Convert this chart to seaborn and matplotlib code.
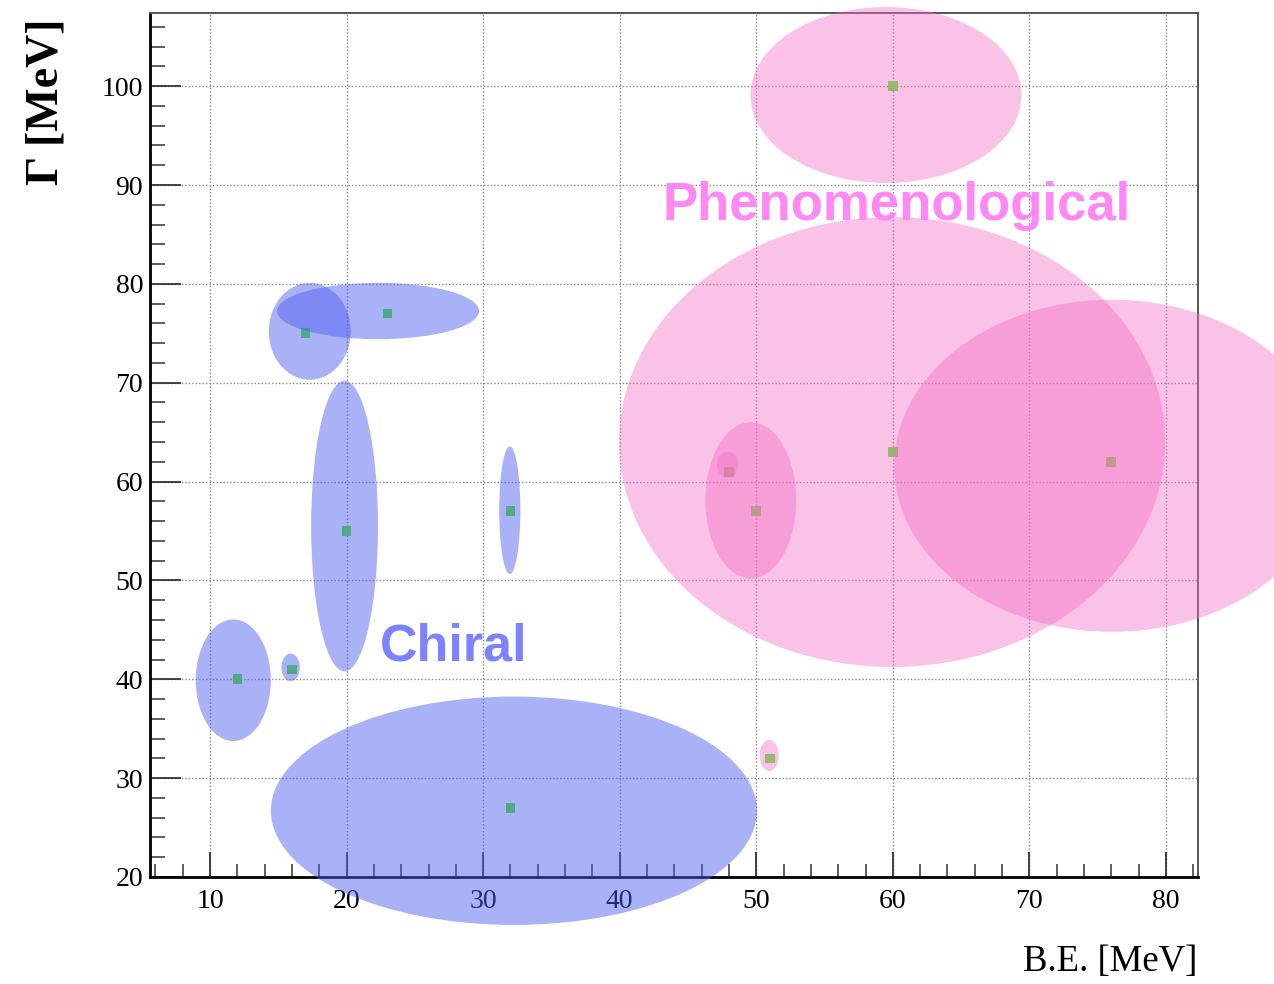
import matplotlib
matplotlib.use("Agg")
import matplotlib.pyplot as plt
from matplotlib.patches import Ellipse
from matplotlib.ticker import MultipleLocator
import seaborn as sns
import pandas as pd

# Predicted (binding energy, width) pairs in MeV
chiral_be = [12, 16, 20, 17, 23, 32, 32]
chiral_gamma = [40, 41, 55, 75, 77, 57, 27]
pheno_be = [60, 60, 76, 50, 48, 51]
pheno_gamma = [100, 63, 62, 57, 61, 32]

# Uncertainty regions: centre x, centre y, full width, full height
chiral_cx = [11.7, 15.9, 19.85, 17.3, 22.3, 31.95, 32.25]
chiral_cy = [39.9, 41.2, 55.5, 75.2, 77.25, 57.1, 26.7]
chiral_w = [5.5, 1.35, 4.9, 6.0, 14.8, 1.55, 35.6]
chiral_h = [12.3, 2.8, 29.4, 9.8, 5.7, 12.9, 23.1]

pheno_cx = [59.5, 59.95, 76.05, 49.6, 47.9, 50.95]
pheno_cy = [99.1, 64.0, 61.6, 58.1, 61.7, 32.3]
pheno_w = [19.85, 40.0, 31.9, 6.65, 1.55, 1.4]
pheno_h = [17.8, 45.5, 33.6, 15.8, 2.65, 3.15]

points = pd.DataFrame({
    "be": chiral_be + pheno_be,
    "gamma": chiral_gamma + pheno_gamma,
})

sns.set_style("white")
plt.rcParams["font.family"] = ["Liberation Serif", "DejaVu Serif"]
plt.rcParams["text.color"] = "black"

fig = plt.figure(figsize=(12.74, 9.84), dpi=100)
ax = fig.add_axes([150 / 1274, 1 - 877 / 984, 1048 / 1274, 864 / 984])

blue = (0.31, 0.37, 0.94)
pink = (0.96, 0.43, 0.78)

# markers sit underneath the translucent regions
sns.scatterplot(data=points, x="be", y="gamma", ax=ax, marker="s", s=48,
                color="#52f028", edgecolor="none", zorder=2.8, legend=False)

for x, y, w, h in zip(chiral_cx, chiral_cy, chiral_w, chiral_h):
    ax.add_patch(Ellipse((x, y), w, h, facecolor=blue, edgecolor="none",
                         alpha=0.48, zorder=3, clip_on=False))

for x, y, w, h in zip(pheno_cx, pheno_cy, pheno_w, pheno_h):
    ax.add_patch(Ellipse((x, y), w, h, facecolor=pink, edgecolor="none",
                         alpha=0.42, zorder=5, clip_on=False))

ax.text(22.45, 41.95, "Chiral", color="#7d82ff", fontsize=37.5,
        fontweight="bold", family=["Liberation Sans", "DejaVu Sans"], zorder=6)
ax.text(43.1, 86.45, "Phenomenological", color="#ff88f5", fontsize=38,
        fontweight="bold", family=["Liberation Sans", "DejaVu Sans"], zorder=6)

ax.set_xlim(5.6, 82.35)
ax.set_ylim(20, 107.4)
ax.xaxis.set_major_locator(MultipleLocator(10))
ax.xaxis.set_minor_locator(MultipleLocator(2))
ax.yaxis.set_major_locator(MultipleLocator(10))
ax.yaxis.set_minor_locator(MultipleLocator(2))
ax.tick_params(which="both", direction="in", bottom=True, left=True,
               top=False, right=False, colors="#333333",
               labelcolor="black", labelsize=20)
ax.tick_params(axis="x", which="major", length=18, width=1.3, pad=9)
ax.tick_params(axis="x", which="minor", length=9.5, width=1.1)
ax.tick_params(axis="y", which="major", length=22, width=1.3, pad=5)
ax.tick_params(axis="y", which="minor", length=11, width=1.1)

ax.grid(True, which="major", color="#888888", linestyle=(0, (1, 1.5)),
        linewidth=1.0)
ax.set_xlabel("")
ax.set_ylabel("")

for side in ("left", "bottom"):
    ax.spines[side].set_color("black")
    ax.spines[side].set_linewidth(2)
for side in ("top", "right"):
    ax.spines[side].set_color("#555555")
    ax.spines[side].set_linewidth(1.4)

fig.text(1197 / 1274, 1 - 962 / 984, "B.E. [MeV]", ha="right", va="center",
         fontsize=26.5, color="black")
fig.text(46 / 1274, 1 - 102 / 984, "Γ [MeV]", ha="center", va="center",
         rotation=90, fontsize=33, fontweight="bold", color="black")

fig.savefig("out.png", dpi=100)
